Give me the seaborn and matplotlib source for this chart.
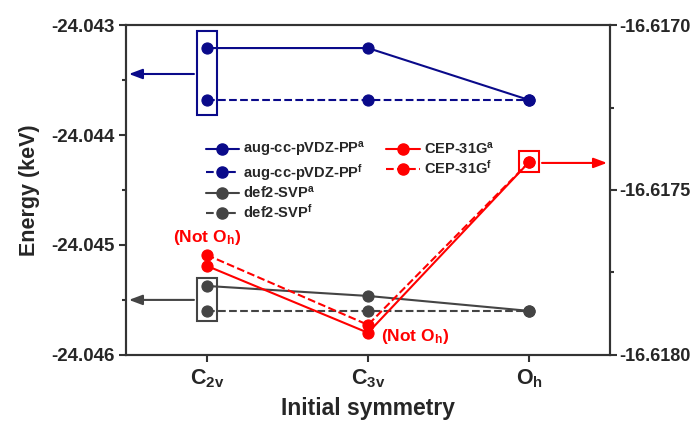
import seaborn as sns
import matplotlib.pyplot as plt
from matplotlib.patches import Rectangle
from matplotlib.lines import Line2D

sns.set_style('ticks')
plt.rcParams['font.family'] = ['Liberation Sans', 'DejaVu Sans']
plt.rcParams['font.weight'] = 'bold'
plt.rcParams['mathtext.fontset'] = 'custom'
plt.rcParams['mathtext.rm'] = 'Liberation Sans:bold'
plt.rcParams['mathtext.bf'] = 'Liberation Sans:bold'
plt.rcParams['mathtext.it'] = 'Liberation Sans:bold'

# simetrias iniciales
symmetry = [r'C$_{\mathbf{2v}}$', r'C$_{\mathbf{3v}}$', r'O$_{\mathbf{h}}$']
xpos = [0, 1, 2]

# energias (keV), eje izquierdo
aug_a = [-24.043209, -24.043209, -24.043682]
aug_f = [-24.043682, -24.043682, -24.043682]
def2_a = [-24.045373, -24.045464, -24.045600]
def2_f = [-24.045600, -24.045600, -24.045600]
# eje derecho
cep_a = [-16.617730, -16.617933, -16.617415]
cep_f = [-16.617697, -16.617909, -16.617415]

navy = '#0a0a8a'
gray = '#444444'
red = '#ff0000'

fig, ax = plt.subplots(figsize=(6.93, 4.25), dpi=100)
fig.subplots_adjust(left=0.182, right=0.880, bottom=0.165, top=0.941)
ax2 = ax.twinx()

mk = dict(marker='o', markersize=8, markeredgewidth=0.8, lw=1.5)
sns.lineplot(x=xpos, y=aug_a, ax=ax, color=navy, markeredgecolor=navy, **mk)
sns.lineplot(x=xpos, y=aug_f, ax=ax, color=navy, markeredgecolor=navy, linestyle='--', **mk)
sns.lineplot(x=xpos, y=def2_a, ax=ax, color=gray, markeredgecolor=gray, **mk)
sns.lineplot(x=xpos, y=def2_f, ax=ax, color=gray, markeredgecolor=gray, linestyle='--', **mk)
sns.lineplot(x=xpos, y=cep_a, ax=ax2, color=red, markeredgecolor=red, **mk)
sns.lineplot(x=xpos, y=cep_f, ax=ax2, color=red, markeredgecolor=red, linestyle='--', **mk)

ax.set_xlim(-0.5, 2.5)
ax.set_ylim(-24.046, -24.043)
ax2.set_ylim(-16.6180, -16.6170)
ax.set_xticks(xpos)
ax.set_xticklabels(symmetry, fontsize=15.5)
ax.set_yticks([-24.046, -24.045, -24.044, -24.043])
ax.set_yticks([-24.0455, -24.0445, -24.0435], minor=True)
ax.set_yticklabels(['-24.046', '-24.045', '-24.044', '-24.043'], fontsize=13.5, fontweight='bold')
ax2.set_yticks([-16.6180, -16.6175, -16.6170])
ax2.set_yticks([-16.61775, -16.61725], minor=True)
ax2.set_yticklabels(['-16.6180', '-16.6175', '-16.6170'], fontsize=13, fontweight='bold')
ax.set_xlabel('Initial symmetry', fontsize=16.5, fontweight='bold', labelpad=5)
ax.set_ylabel('Energy (keV)', fontsize=15.5, fontweight='bold', labelpad=8)

for a in (ax, ax2):
    for s in a.spines.values():
        s.set_linewidth(1.5)
        s.set_color('#333333')
    a.tick_params(which='major', length=5, width=1.5, color='#333333')
    a.tick_params(which='minor', length=3, width=1.5, color='#333333')
ax.tick_params(axis='x', pad=4)
ax2.tick_params(axis='y', which='major', pad=2)

# cajas y flechas
ax.add_patch(Rectangle((-0.062, -24.043818), 0.124, 0.000763, fill=False, ec=navy, lw=1.5, zorder=5))
ax.add_patch(Rectangle((-0.062, -24.04569), 0.124, 0.00039, fill=False, ec=gray, lw=1.5, zorder=5))
ax2.add_patch(Rectangle((1.938, -16.617445), 0.124, 0.000063, fill=False, ec=red, lw=1.5, zorder=5))
arr = dict(arrowstyle='-|>,head_length=0.8,head_width=0.3', lw=1.5)
ax.annotate('', xy=(-0.5, -24.043445), xytext=(-0.062, -24.043445),
            arrowprops=dict(color=navy, **arr), annotation_clip=False)
ax.annotate('', xy=(-0.5, -24.0455), xytext=(-0.062, -24.0455),
            arrowprops=dict(color=gray, **arr), annotation_clip=False)
ax2.annotate('', xy=(2.5, -16.617418), xytext=(2.062, -16.617418),
             arrowprops=dict(color=red, **arr), annotation_clip=False)

ax2.text(0, -16.617672, r'(Not O$_{\mathbf{h}}$)', color=red, fontsize=12.5,
         fontweight='bold', ha='center', va='bottom')
ax2.text(1.08, -16.617945, r'(Not O$_{\mathbf{h}}$)', color=red, fontsize=12.5,
         fontweight='bold', ha='left', va='center')

# leyenda
def h(c, ls):
    return Line2D([], [], color=c, ls=ls, marker='o', markersize=8, lw=1.5)
blank = Line2D([], [], alpha=0)
handles = [h(navy, '-'), h(navy, '--'), h(gray, '-'), h(gray, '--'),
           h(red, '-'), h(red, '--'), blank, blank]
labels = [r'aug-cc-pVDZ-PP$^{\mathbf{a}}$', r'aug-cc-pVDZ-PP$^{\mathbf{f}}$',
          r'def2-SVP$^{\mathbf{a}}$', r'def2-SVP$^{\mathbf{f}}$',
          r'CEP-31G$^{\mathbf{a}}$', r'CEP-31G$^{\mathbf{f}}$', '', '']
ax2.legend(handles, labels, ncol=2, loc='upper left', bbox_to_anchor=(0.137, 0.69),
           frameon=False, prop={'weight': 'bold', 'size': 10.5}, handlelength=2.3,
           labelspacing=0.15, columnspacing=1.4, handletextpad=0.3)

fig.savefig('out.png', dpi=100)
